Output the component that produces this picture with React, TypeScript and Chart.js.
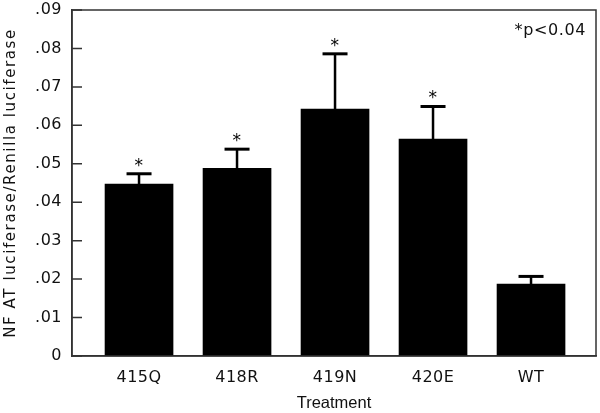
import React, { useEffect, useRef } from "react";
import { Chart, registerables } from "chart.js";

Chart.register(...registerables);

const categories = ["415Q", "418R", "419N", "420E", "WT"];
const means = [0.0447, 0.0488, 0.0642, 0.0564, 0.0187];
const errors = [0.0027, 0.005, 0.0144, 0.0085, 0.002];
const significant = [true, true, true, true, false];
const yTicks = [0, 0.01, 0.02, 0.03, 0.04, 0.05, 0.06, 0.07, 0.08, 0.09];
const noteText = "*p<0.04";
const yTitle = "NF AT luciferase/Renilla luciferase";
const xTitle = "Treatment";

const WIDE = "'DejaVu Sans', Verdana, sans-serif";
const NARROW = "'Liberation Sans', Arial, sans-serif";
const AXIS_COLOR = "#333";
const TEXT_COLOR = "#111";

const decorPlugin = {
  id: "decor",
  beforeDraw(chart: any) {
    (chart.ctx as any).letterSpacing = "0.5px";
  },
  afterDatasetsDraw(chart: any) {
    const { ctx, chartArea, scales } = chart;
    const y = scales.y;
    const meta = chart.getDatasetMeta(0);
    ctx.save();
    meta.data.forEach((bar: any, i: number) => {
      const top = y.getPixelForValue(means[i] + errors[i]);
      ctx.strokeStyle = "#000";
      ctx.lineWidth = 2.5;
      ctx.beginPath();
      ctx.moveTo(bar.x, bar.y);
      ctx.lineTo(bar.x, top);
      ctx.stroke();
      ctx.lineWidth = 3;
      ctx.beginPath();
      ctx.moveTo(bar.x - 12.5, top);
      ctx.lineTo(bar.x + 12.5, top);
      ctx.stroke();
      if (significant[i]) {
        ctx.fillStyle = "#000";
        ctx.font = `17px ${WIDE}`;
        ctx.textAlign = "center";
        ctx.textBaseline = "alphabetic";
        ctx.fillText("*", bar.x, top - 3);
      }
    });
    ctx.strokeStyle = AXIS_COLOR;
    ctx.lineWidth = 1.5;
    ctx.strokeRect(
      chartArea.left,
      chartArea.top,
      chartArea.right - chartArea.left,
      chartArea.bottom - chartArea.top
    );
    ctx.beginPath();
    y.ticks.forEach((t: any) => {
      const py = y.getPixelForValue(t.value);
      ctx.moveTo(chartArea.left, py);
      ctx.lineTo(chartArea.left + 10, py);
    });
    ctx.stroke();
    ctx.fillStyle = TEXT_COLOR;
    ctx.font = `16px ${WIDE}`;
    ctx.letterSpacing = "0.6px";
    ctx.textAlign = "right";
    ctx.textBaseline = "middle";
    ctx.fillText(noteText, chartArea.right - 10, chartArea.top + 21);
    // x axis title
    ctx.font = `16.5px ${NARROW}`;
    ctx.letterSpacing = "0px";
    ctx.textAlign = "center";
    ctx.textBaseline = "middle";
    ctx.fillText(xTitle, (chartArea.left + chartArea.right) / 2, chartArea.bottom + 47);
    // y axis title
    ctx.save();
    ctx.translate(chartArea.left - 60.5, (chartArea.top + chartArea.bottom) / 2);
    ctx.rotate(-Math.PI / 2);
    ctx.font = `15px ${WIDE}`;
    ctx.letterSpacing = "1.6px";
    ctx.textAlign = "center";
    ctx.textBaseline = "middle";
    ctx.fillText(yTitle, 0, 0);
    ctx.restore();
    ctx.restore();
  },
};

export default function App() {
  const ref = useRef<HTMLCanvasElement | null>(null);

  useEffect(() => {
    if (!ref.current) return;
    const chart = new Chart(ref.current, {
      type: "bar",
      data: {
        datasets: [
          {
            data: categories.map((c, i) => ({ x: i + 1, y: means[i] })) as any,
            backgroundColor: "#000",
            borderWidth: 0,
            barThickness: 68,
          },
        ],
      },
      options: {
        animation: false,
        responsive: false,
        maintainAspectRatio: false,
        layout: { padding: { left: 2, top: 10, right: 4, bottom: 0 } },
        plugins: { legend: { display: false }, tooltip: { enabled: false } },
        scales: {
          x: {
            type: "linear",
            offset: false,
            min: 0.316,
            max: 5.663,
            grid: { display: false, drawTicks: false, offset: false },
            border: { display: true, color: AXIS_COLOR, width: 1.5 },
            afterBuildTicks: (scale: any) => {
              scale.ticks = categories.map((_, i) => ({ value: i + 1 }));
            },
            afterFit: (scale: any) => {
              scale.height = 57;
            },
            ticks: {
              autoSkip: false,
              maxRotation: 0,
              padding: 12,
              color: TEXT_COLOR,
              font: { family: WIDE, size: 16 },
              callback: (v: any) => categories[Math.round(Number(v)) - 1] ?? "",
            },
            title: { display: false },
          },
          y: {
            min: 0,
            max: 0.09,
            grid: { display: false, drawTicks: false },
            border: { display: true, color: AXIS_COLOR, width: 1.5 },
            afterBuildTicks: (scale: any) => {
              scale.ticks = yTicks.map((v) => ({ value: v }));
            },
            afterFit: (scale: any) => {
              scale.width = 70;
              scale.paddingTop = 0;
              scale.paddingBottom = 0;
            },
            ticks: {
              padding: 10,
              color: TEXT_COLOR,
              font: { family: WIDE, size: 16 },
              callback: (v: any) => {
                const n = Math.round(Number(v) * 100);
                return n === 0 ? "0" : "." + String(n).padStart(2, "0");
              },
            },
            title: { display: false },
          },
        },
      },
      plugins: [decorPlugin],
    });
    return () => chart.destroy();
  }, []);

  return (
    <div style={{ position: "fixed", left: 0, top: 0, width: 600, height: 413, background: "#fff" }}>
      <canvas ref={ref} width={600} height={413} style={{ width: 600, height: 413 }} />
    </div>
  );
}
